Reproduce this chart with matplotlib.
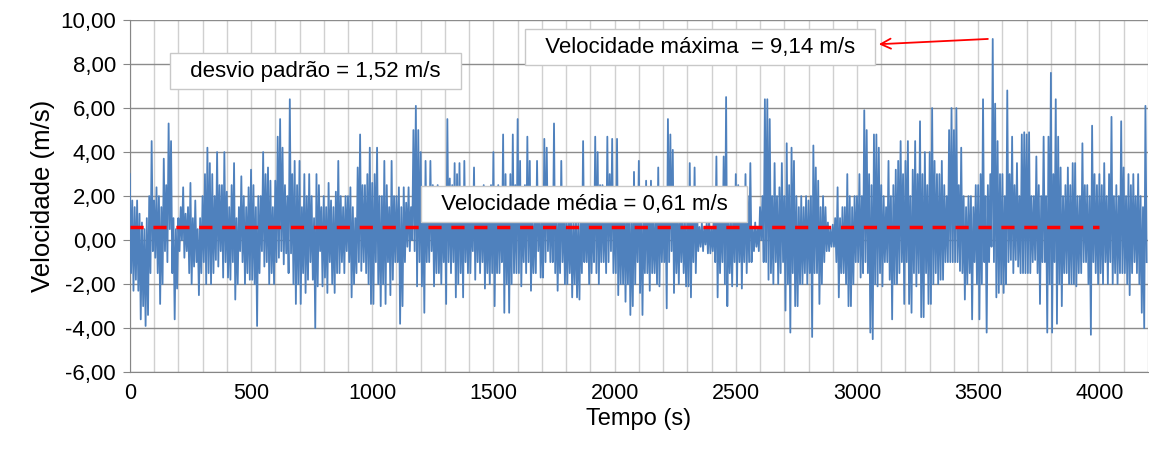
import matplotlib.pyplot as plt
import numpy as np
from matplotlib.ticker import MultipleLocator

# upper swings of the signal, read every 10 s (one row = 100 s)
picos = [
    3.0, 1.8, 1.5, 1.8, 1.2, 0.8, 0.5, 1.0, 2.0, 4.5,
    1.8, 2.4, 2.0, 1.5, 3.7, 2.5, 5.3, 4.5, 1.0, 0.5,
    1.0, 1.5, 2.4, 1.2, 1.5, 2.6, 1.0, 1.8, 0.5, 1.0,
    2.0, 3.0, 4.2, 3.5, 3.0, 2.0, 4.0, 2.5, 2.5, 4.0,
    2.2, 1.5, 2.5, 3.5, 1.0, 1.5, 2.9, 2.0, 1.5, 2.4,
    3.2, 2.5, 1.5, 2.0, 2.0, 4.0, 3.0, 3.3, 2.7, 1.5,
    2.7, 4.7, 5.5, 4.2, 2.5, 2.0, 6.4, 3.0, 3.6, 2.5,
    3.6, 1.5, 3.0, 2.0, 3.0, 2.0, 1.0, 3.0, 2.5, 1.5,
    2.0, 1.5, 2.6, 1.8, 1.5, 2.2, 3.6, 2.0, 1.5, 2.0,
    2.0, 2.4, 1.5, 1.0, 3.3, 4.8, 2.5, 2.5, 3.0, 4.2,
    2.6, 3.0, 4.2, 2.0, 2.0, 3.6, 2.5, 1.5, 3.6, 2.0,
    2.0, 2.4, 1.5, 2.4, 1.7, 2.4, 1.5, 5.0, 6.1, 5.0,
    4.0, 2.0, 3.6, 2.0, 3.6, 2.5, 2.0, 2.5, 1.5, 2.0,
    2.0, 5.5, 2.8, 2.5, 3.5, 3.0, 3.5, 2.0, 3.6, 2.0,
    2.2, 1.5, 3.3, 2.4, 2.0, 2.0, 2.5, 1.5, 1.5, 2.5,
    4.0, 2.0, 2.5, 1.8, 4.8, 3.0, 2.0, 3.0, 4.8, 2.5,
    5.5, 3.6, 1.5, 2.5, 4.7, 3.6, 1.0, 1.5, 3.6, 2.0,
    1.0, 4.6, 4.2, 2.0, 2.0, 5.3, 2.0, 1.0, 3.6, 2.0,
    1.0, 1.5, 1.5, 0.8, 1.5, 0.8, 1.5, 4.5, 1.5, 2.0,
    2.0, 1.5, 4.7, 4.0, 2.5, 2.5, 1.8, 4.7, 3.0, 4.6,
    2.0, 4.6, 2.0, 1.5, 2.2, 1.5, 2.2, 1.0, 3.1, 2.0,
    3.6, 1.5, 1.5, 2.7, 1.5, 2.7, 1.0, 1.5, 3.3, 2.0,
    1.5, 2.0, 5.5, 4.8, 4.1, 2.0, 1.2, 2.0, 1.5, 1.0,
    1.5, 3.5, 2.0, 3.3, 1.5, 0.6, 0.8, 0.6, 0.8, 1.0,
    0.5, 1.0, 3.8, 2.0, 1.5, 3.8, 6.5, 1.5, 1.0, 2.0,
    3.0, 2.5, 2.0, 1.8, 3.0, 2.0, 3.5, 0.5, 0.8, 0.5,
    1.5, 2.0, 6.4, 6.4, 5.5, 2.0, 3.5, 2.0, 2.4, 3.5,
    2.0, 4.4, 2.5, 4.2, 3.6, 2.0, 1.5, 2.0, 1.5, 2.0,
    1.8, 2.0, 4.3, 3.3, 2.7, 1.5, 2.0, 1.5, 0.8, 0.5,
    0.7, 1.0, 2.4, 1.0, 1.5, 1.5, 3.0, 2.0, 1.5, 2.0,
    2.0, 3.0, 2.0, 5.9, 5.0, 3.0, 2.5, 4.8, 4.8, 4.2,
    2.5, 2.0, 1.5, 3.6, 2.0, 2.5, 3.2, 3.6, 4.5, 3.0,
    3.6, 4.5, 2.0, 3.2, 4.5, 3.0, 5.4, 3.0, 4.0, 2.5,
    4.0, 6.0, 3.6, 3.0, 3.0, 3.6, 2.5, 2.0, 5.0, 6.0,
    5.0, 6.0, 2.5, 4.2, 2.0, 1.5, 2.0, 2.0, 1.5, 2.5,
    2.5, 3.0, 6.4, 2.0, 2.5, 3.0, 9.14, 6.2, 4.5, 3.0,
    3.0, 2.0, 6.8, 3.0, 4.7, 2.5, 3.5, 2.0, 4.8, 4.9,
    4.8, 4.9, 2.0, 2.0, 3.8, 2.5, 2.0, 4.7, 2.0, 4.7,
    7.6, 3.0, 6.4, 4.7, 3.3, 2.0, 2.5, 3.3, 2.5, 3.5,
    3.5, 2.0, 2.0, 4.4, 2.5, 2.5, 2.0, 5.2, 3.0, 2.5,
    3.0, 2.5, 3.5, 2.0, 3.0, 5.6, 2.0, 2.5, 2.0, 5.4,
    3.3, 2.0, 3.0, 2.5, 3.0, 2.0, 3.0, 2.0, 1.5, 6.1,
]
# lower swings, 5 s after each upper one
vales = [
    -1.5, -2.3, -1.8, -2.3, -3.6, -3.0, -3.9, -3.4, -1.5, -0.5,
    -0.8, -1.5, -2.9, -2.0, -0.5, -1.0, 0.5, -1.5, -3.6, -2.2,
    -0.5, 0.0, -0.8, -0.5, -1.5, -2.0, -1.2, -1.0, -2.5, -1.5,
    -1.0, -2.0, -1.5, -2.0, -1.5, -0.9, -1.2, -0.5, -1.7, -1.0,
    -1.7, -1.8, -1.0, -2.7, -2.0, -0.5, -1.0, -2.0, -1.5, -1.8,
    -1.8, -2.0, -3.9, -1.5, -0.5, -1.2, -1.0, -2.0, -1.5, -2.0,
    -1.0, -0.8, -0.5, -1.1, -0.6, -1.5, -0.6, -2.0, -2.9, -2.0,
    -2.9, -1.5, -2.4, -1.8, -1.0, -1.8, -4.0, -2.1, -0.5, -2.1,
    -1.7, -2.4, -1.0, -2.0, -2.4, -1.5, -1.5, -1.0, -1.5, -0.5,
    -1.0, -2.6, -2.0, -1.5, -1.0, -1.4, -1.0, -1.5, -2.0, -2.9,
    -2.9, -1.0, -2.0, -3.0, -2.0, -2.9, -1.0, -2.5, -1.8, -1.0,
    -1.0, -3.8, -3.0, -1.0, -0.3, -0.5, 0.0, -0.5, -2.1, -1.0,
    -2.1, -3.3, -1.0, -1.0, -0.5, -2.1, -1.5, -1.5, -2.0, -1.0,
    -2.9, -1.0, -1.5, -1.0, -2.6, -2.0, -1.5, -2.6, -1.0, -1.5,
    -1.5, -0.5, -1.8, -1.0, -1.5, -1.0, -2.2, -1.5, -2.0, -1.5,
    -3.0, -1.5, -1.5, -1.0, -3.3, -2.0, -3.3, -2.0, -1.5, -1.5,
    -1.5, -2.1, -1.0, -1.5, -1.0, -2.3, -1.5, -1.5, -0.5, -1.7,
    -1.7, -1.0, -0.5, -1.0, -1.0, -1.5, -2.3, -1.5, -1.0, -2.0,
    -2.0, -1.5, -2.6, -2.0, -2.6, -2.7, -1.5, -1.0, -1.0, -2.0,
    -1.5, -1.0, -1.5, -2.0, -1.0, -1.0, -1.5, -1.0, -0.5, -1.5,
    -1.5, -2.5, -2.0, -2.0, -2.8, -2.0, -3.4, -3.0, -2.0, -1.0,
    -2.4, -3.4, -1.5, -1.5, -2.3, -1.5, -1.5, -2.0, -2.1, -1.0,
    -1.0, -3.1, -1.0, -0.5, -2.4, -1.5, -2.0, -1.0, -1.5, -2.1,
    -2.1, -2.6, -1.0, -1.5, -0.5, -0.3, -0.5, -0.2, -0.6, -0.6,
    -0.5, -1.0, -2.6, -1.5, -1.0, -2.0, -3.0, -1.5, -2.1, -1.0,
    -2.1, -1.0, -2.2, -1.0, -1.5, -1.0, -1.0, -0.5, -0.3, -0.5,
    0.0, -1.0, -1.0, -1.8, -1.5, -2.0, -1.0, -2.0, -1.5, -1.0,
    -3.2, -2.0, -4.2, -1.5, -3.0, -3.0, -2.0, -2.0, -1.5, -2.0,
    -1.5, -4.4, -1.5, -1.5, -2.9, -2.0, -1.0, -0.5, -0.5, -0.3,
    -0.3, -1.0, -2.6, -1.5, -1.5, -2.0, -3.0, -3.0, -2.0, -1.0,
    -1.0, -1.7, -1.5, -1.0, -1.5, -4.2, -4.5, -2.0, -2.1, -1.5,
    -2.1, -1.0, -1.0, -1.8, -3.6, -2.0, -2.0, -1.5, -1.0, -2.9,
    -1.0, -2.9, -3.3, -1.5, -2.1, -1.5, -3.5, -3.5, -1.5, -2.9,
    -2.9, -2.0, -1.5, -2.0, -1.8, -1.8, -1.0, -1.0, -1.0, -1.0,
    -1.0, -1.0, -1.4, -1.5, -2.7, -2.0, -1.5, -3.6, -1.0, -2.0,
    -3.6, -2.0, -1.0, -4.2, -1.0, -0.3, -1.0, -2.6, -2.4, -2.0,
    -2.4, -2.0, -1.0, -0.9, -1.5, -0.9, -1.2, -1.5, -1.5, -1.5,
    -1.5, -1.5, -1.0, -0.9, -1.5, -2.9, -1.0, -1.0, -4.2, -2.0,
    -4.2, -1.0, -3.8, -2.0, -3.0, -1.5, -1.5, -2.0, -2.0, -2.0,
    -2.1, -1.5, -1.5, -1.0, -1.0, -2.0, -4.3, -1.0, -1.5, -2.0,
    -1.5, -2.0, -1.0, -2.0, -1.0, -2.0, -1.5, -2.0, -1.5, -1.5,
    -1.5, -2.0, -2.5, -1.5, -1.0, -1.5, -2.0, -3.3, -4.0, -1.0,
]
velocidade = np.column_stack([picos, vales]).ravel()
tempo = np.arange(len(velocidade)) * 5

media = 0.61
media_fim = 4000
desvio = 1.52
vmax = 9.14
t_vmax = 3560

yticks = [-6, -4, -2, 0, 2, 4, 6, 8, 10]
ytick_labels = ['-6,00', '-4,00', '-2,00', '0,00', '2,00', '4,00', '6,00', '8,00', '10,00']
xticks = [0, 500, 1000, 1500, 2000, 2500, 3000, 3500, 4000]

plt.rcParams['font.family'] = ['Liberation Sans', 'DejaVu Sans']


def virgula(v):
    return f'{v:.2f}'.replace('.', ',')


fig = plt.figure(figsize=(11.49, 4.55), dpi=100)
ax = fig.add_axes([0.113, 0.182, 0.886, 0.774])

ax.plot(tempo, velocidade, color='#4f81bd', lw=1.3, zorder=3)
ax.plot([0, media_fim], [media, media], color='#ff0000', lw=2.5,
        dashes=(3.8, 2.8), zorder=4)

ax.set_xlim(0, 4200)
ax.set_ylim(-6, 10)
ax.set_yticks(yticks)
ax.set_yticklabels(ytick_labels, fontsize=16)
ax.set_xticks(xticks)
ax.set_xticklabels([str(x) for x in xticks], fontsize=15.5)
ax.xaxis.set_minor_locator(MultipleLocator(100))

ax.grid(axis='y', color='#8c8c8c', lw=1.0, zorder=0)
ax.grid(axis='x', which='both', color='#d0d0d0', lw=1.0, zorder=0)
ax.set_axisbelow(True)
ax.tick_params(axis='x', which='both', length=0, pad=8)
ax.tick_params(axis='y', length=5, color='#868686', pad=5)
for s in ['top', 'right']:
    ax.spines[s].set_visible(False)
for s in ['left', 'bottom']:
    ax.spines[s].set_color('#868686')

ax.set_xlabel('Tempo (s)', fontsize=17, labelpad=3)
ax.set_ylabel('Velocidade (m/s)', fontsize=18.5, labelpad=4)

box = dict(boxstyle='square,pad=0.35', fc='white', ec='#c8c8c8', lw=1.0)
ax.text(766, 7.68, '  desvio padrão = ' + virgula(desvio) + ' m/s  ',
        ha='center', va='center', fontsize=16, bbox=box, zorder=6)
ax.text(2352, 8.77, '  Velocidade máxima  = ' + virgula(vmax) + ' m/s  ',
        ha='center', va='center', fontsize=16, bbox=box, zorder=6)
ax.text(1874, 1.64, '  Velocidade média = ' + virgula(media) + ' m/s  ',
        ha='center', va='center', fontsize=16, bbox=box, zorder=6)

ax.annotate('', xy=(3090, 8.9), xytext=(t_vmax - 20, vmax),
            arrowprops=dict(arrowstyle='->', color='#ff0000', lw=1.3,
                            mutation_scale=18, shrinkA=0, shrinkB=0), zorder=7)

fig.savefig('out.png', dpi=100)
